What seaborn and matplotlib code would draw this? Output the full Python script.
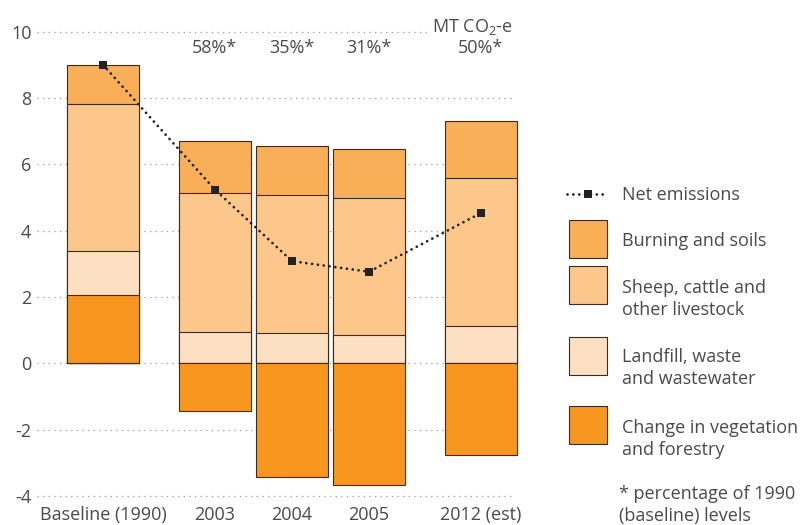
import numpy as np
import seaborn as sns
import matplotlib.pyplot as plt
from matplotlib.patches import Rectangle
from matplotlib.lines import Line2D

# data (MT CO2-e)
categories = ["Baseline (1990)", "2003", "2004", "2005", "2012 (est)"]
x_pos = [0, 1.45, 2.45, 3.45, 4.9]
vegetation = [2.05, -1.44, -3.43, -3.68, -2.77]
landfill = [1.34, 0.93, 0.90, 0.84, 1.12]
livestock = [4.42, 4.20, 4.18, 4.15, 4.48]
burning = [1.19, 1.56, 1.47, 1.46, 1.71]
net = [9.0, 5.24, 3.08, 2.76, 4.53]
pct_labels = ["", "58%*", "35%*", "31%*", "50%*"]
y_ticks = [-4, -2, 0, 2, 4, 6, 8, 10]

c_burn = "#F9AE58"
c_sheep = "#FDC78B"
c_land = "#FDE0C1"
c_veg = "#F7971F"
edge = "#3a2c20"
txt = "#4a4a4a"
fs = 13

sns.set_style("white")
plt.rcParams['font.family'] = ['Open Sans', 'DejaVu Sans']
plt.rcParams['mathtext.fontset'] = 'custom'
plt.rcParams['mathtext.rm'] = 'Open Sans'
plt.rcParams['font.size'] = fs

fig = plt.figure(figsize=(8.08, 5.25), dpi=100)
ax = fig.add_axes([37 / 808, 1 - 500.9 / 525, 484 / 808, 482.5 / 525])

base = np.clip(vegetation, 0, None)
neg = np.clip(vegetation, None, 0)
layers = [
    (base + np.array(landfill) + livestock + burning, c_burn),
    (base + np.array(landfill) + livestock, c_sheep),
    (base + np.array(landfill), c_land),
    (base, c_veg),
    (neg, c_veg),
]
for heights, col in layers:
    sns.barplot(x=x_pos, y=heights, native_scale=True, orient="x", color=col,
                saturation=1, width=0.93, edgecolor=edge, linewidth=0.8,
                errorbar=None, ax=ax, zorder=2)

sns.lineplot(x=x_pos, y=net, ax=ax, color="#222222", marker="s", markersize=6,
             markeredgewidth=0, linewidth=2, linestyle=(0, (0.01, 2.1)),
             dash_capstyle="round", zorder=4)

xmin, xmax = -0.856, 5.42
ax.set_xlim(xmin, xmax)
ax.set_ylim(-4.15, 10.4)

# dotted grid, the top line stops before the unit label
grid_end = 5.32
ax.hlines(y_ticks[:-1], xmin, grid_end, colors="#9a9a9a", linestyles=(0, (1, 3.5)),
          linewidth=0.9, zorder=0)
ax.hlines(10, xmin, 4.2, colors="#9a9a9a", linestyles=(0, (1, 3.5)),
          linewidth=0.9, zorder=0)

ax.set_yticks(y_ticks, [str(t) for t in y_ticks])
ax.set_xticks(x_pos, categories)
ax.tick_params(length=0, colors=txt, labelsize=fs)
ax.tick_params(axis="y", pad=4)
ax.tick_params(axis="x", pad=4)
ax.set_xlabel("")
ax.set_ylabel("")
sns.despine(ax=ax, left=True, bottom=True)

for xp, lab in zip(x_pos, pct_labels):
    ax.text(xp, 9.5, lab, ha="center", va="center", color=txt, fontsize=fs)
ax.text(4.27, 10, "MT CO$_2$-e", ha="left", va="baseline", color=txt, fontsize=fs)

# legend on the right, laid out by hand
def fx(px):
    return px / 808

def fy(py):
    return 1 - py / 525

fig.add_artist(Line2D([fx(567), fx(608)], [fy(194), fy(194)], color="#222222",
                      linewidth=2, linestyle=(0, (0.01, 2.1)), dash_capstyle="round"))
fig.add_artist(Line2D([fx(588)], [fy(194)], color="#222222", marker="s",
                      markersize=6, markeredgewidth=0))
fig.text(fx(622), fy(195), "Net emissions", va="center", color=txt, fontsize=fs)

swatches = [
    (220, c_burn, "Burning and soils", 241),
    (266, c_sheep, "Sheep, cattle and\nother livestock", 299),
    (337, c_land, "Landfill, waste\nand wastewater", 368),
    (406, c_veg, "Change in vegetation\nand forestry", 439),
]
for top, col, lab, ty in swatches:
    fig.add_artist(Rectangle((fx(569), fy(top + 38)), 38 / 808, 38 / 525,
                             transform=fig.transFigure, facecolor=col,
                             edgecolor=edge, linewidth=0.8))
    fig.text(fx(622), fy(ty), lab, va="center", color=txt, fontsize=fs,
             linespacing=1.3)

fig.text(fx(619), fy(505), "* percentage of 1990\n(baseline) levels", va="center",
         color=txt, fontsize=fs, linespacing=1.3)

fig.savefig("out.png", dpi=100)
